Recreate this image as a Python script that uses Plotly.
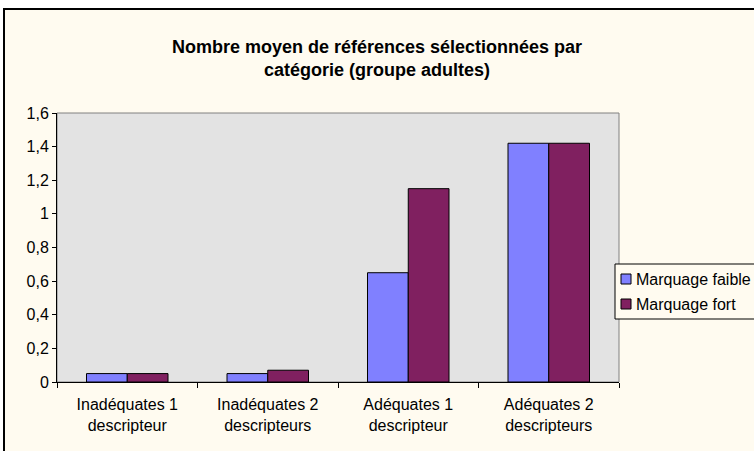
import plotly.graph_objects as go

categories = ["Inadéquates 1<br>descripteur", "Inadéquates 2<br>descripteurs",
              "Adéquates 1<br>descripteur", "Adéquates 2<br>descripteurs"]
series_names = ["Marquage faible", "Marquage fort"]
faible = [0.05, 0.05, 0.65, 1.42]
fort = [0.05, 0.07, 1.15, 1.42]
yticks = [0, 0.2, 0.4, 0.6, 0.8, 1.0, 1.2, 1.4, 1.6]
colors = ["#8080FF", "#802060"]

FONT = "Liberation Sans, Arial, sans-serif"

fig = go.Figure()
for name, vals, col in zip(series_names, [faible, fort], colors):
    fig.add_trace(go.Bar(name=name, x=categories, y=vals,
                         marker=dict(color=col, line=dict(color="black", width=1))))

L, R, T, B = 57, 135, 113, 69
W, H = 754, 451
pw, ph = W - L - R, H - T - B

def px(x):
    return (x - L) / pw

def py(y):
    return (H - B - y) / ph

shapes = [
    dict(type="rect", xref="paper", yref="paper", layer="below",
         x0=px(4), x1=px(800), y0=py(500), y1=py(9),
         fillcolor="#FFFBF0", line=dict(color="black", width=2)),
    dict(type="rect", xref="paper", yref="paper", layer="below",
         x0=0, x1=1, y0=0, y1=1, fillcolor="#E3E3E3",
         line=dict(color="#808080", width=1)),
    # legend box
    dict(type="rect", xref="paper", yref="paper", layer="above",
         x0=px(615), x1=px(770), y0=py(319), y1=py(264),
         fillcolor="#FFFBF0", line=dict(color="black", width=1)),
]
annotations = []
for i, (name, col) in enumerate(zip(series_names, colors)):
    cy = 279 + i * 25
    shapes.append(dict(type="rect", xref="paper", yref="paper", layer="above",
                       x0=px(621), x1=px(631), y0=py(cy + 5), y1=py(cy - 5),
                       fillcolor=col, line=dict(color="black", width=1)))
    annotations.append(dict(text=name, xref="paper", yref="paper",
                            x=px(634), y=py(cy), xanchor="left", yanchor="middle",
                            showarrow=False, font=dict(family=FONT, size=16, color="black")))

fig.update_layout(
    width=W, height=H,
    margin=dict(l=L, r=R, t=T, b=B, autoexpand=False),
    paper_bgcolor="white",
    plot_bgcolor="#E3E3E3",
    separators=", ",
    font=dict(family=FONT, size=16, color="black"),
    barmode="group",
    bargap=0.42,
    bargroupgap=0,
    showlegend=False,
    title=dict(text="<b>Nombre moyen de références sélectionnées par<br>catégorie (groupe adultes)</b>",
               x=px(338), xanchor="center", y=1 - 53 / H, yanchor="middle",
               font=dict(family=FONT, size=18, color="black")),
    xaxis=dict(showgrid=False, showline=True, linecolor="black", linewidth=1,
               ticks="outside", tickson="boundaries", ticklen=5, tickcolor="black",
               ticklabelstandoff=8,
               tickfont=dict(family=FONT, size=16)),
    yaxis=dict(range=[0, 1.6], tickvals=yticks, showgrid=False, zeroline=False,
               showline=True, linecolor="black", linewidth=1,
               ticks="outside", ticklen=4, tickcolor="black",
               tickfont=dict(family=FONT, size=16)),
    shapes=shapes,
    annotations=annotations,
)

fig.write_html("out.html", config={"displayModeBar": False},
               post_script="document.body.style.margin='0';document.body.style.overflow='hidden';")
